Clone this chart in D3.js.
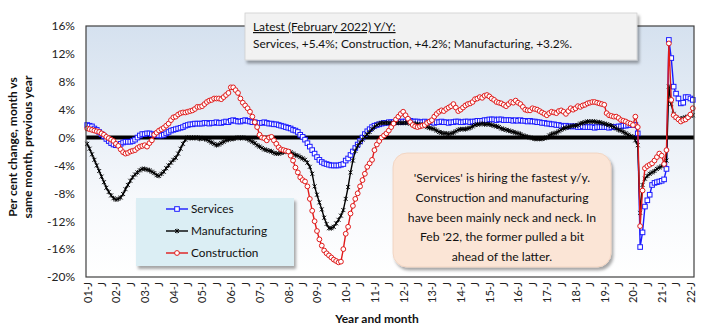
<!DOCTYPE html>
<html>
<head>
<meta charset="utf-8">
<script src="https://cdn.jsdelivr.net/npm/d3@7"></script>
<style>
  body { margin: 0; background: #fff; }
  svg { display: block; font-family: Lato, "Open Sans", sans-serif; }
</style>
</head>
<body>
<svg id="chart" width="701" height="329"></svg>
<script>
// Monthly year-over-year employment change (%), Jan 2001 – Feb 2022
const startYear = 2001;
const monthCount = 254;

const services = [
  1.8, 1.7, 1.6, 1.3, 1.1, 0.8, 0.5, 0.2, -0.2, -0.5, -0.8, -1.0,
  -1.1, -1.1, -0.9, -0.7, -0.6, -0.6, -0.6, -0.5, -0.3, 0.0, 0.3, 0.5,
  0.5, 0.6, 0.6, 0.5, 0.4, 0.4, 0.3, 0.3, 0.4, 0.6, 0.8, 1.0,
  1.1, 1.2, 1.3, 1.4, 1.5, 1.7, 1.8, 1.9, 1.9, 2.0, 2.0, 2.0,
  2.0, 2.1, 2.1, 2.0, 2.1, 2.1, 2.2, 2.1, 2.1, 2.2, 2.3, 2.2,
  2.4, 2.5, 2.4, 2.3, 2.3, 2.4, 2.5, 2.4, 2.3, 2.2, 2.2, 2.1,
  2.1, 2.1, 2.2, 2.1, 2.0, 2.0, 1.9, 1.9, 1.8, 1.7, 1.6, 1.5,
  1.4, 1.3, 1.1, 1.0, 0.8, 0.4, 0.1, -0.3, -0.8, -1.3, -1.8, -2.3,
  -2.8, -3.2, -3.5, -3.7, -3.8, -3.9, -4.0, -4.0, -4.0, -4.0, -3.9, -3.8,
  -3.3, -3.0, -2.5, -2.0, -1.5, -1.0, -0.5, 0.0, 0.5, 0.9, 1.2, 1.5,
  1.7, 1.8, 1.9, 2.0, 2.1, 2.1, 2.2, 2.2, 2.2, 2.2, 2.3, 2.2,
  2.3, 2.3, 2.5, 2.4, 2.3, 2.3, 2.3, 2.2, 2.2, 2.3, 2.2, 2.2,
  2.2, 2.1, 2.2, 2.2, 2.3, 2.2, 2.2, 2.1, 2.2, 2.2, 2.3, 2.3,
  2.2, 2.2, 2.3, 2.3, 2.2, 2.3, 2.3, 2.4, 2.4, 2.4, 2.5, 2.5,
  2.6, 2.6, 2.6, 2.5, 2.6, 2.6, 2.5, 2.5, 2.5, 2.5, 2.4, 2.5,
  2.4, 2.5, 2.4, 2.4, 2.3, 2.4, 2.3, 2.3, 2.2, 2.2, 2.1, 2.1,
  2.0, 2.0, 1.9, 1.9, 1.8, 1.8, 1.7, 1.6, 1.7, 1.6, 1.6, 1.6,
  1.6, 1.5, 1.5, 1.6, 1.5, 1.5, 1.5, 1.5, 1.4, 1.5, 1.5, 1.5,
  1.5, 1.5, 1.4, 1.5, 1.5, 1.5, 1.6, 1.6, 1.7, 1.7, 1.8, 1.8,
  1.8, 1.8, 0.6, -15.7, -13.6, -9.9, -9.0, -8.2, -6.8, -6.5, -6.4, -6.3,
  -6.2, -6.0, -4.5, 14.0, 11.4, 7.3, 6.3, 5.6, 4.9, 5.0, 5.8, 5.8,
  5.6, 5.4
];

const manufacturing = [
  -0.9, -1.6, -2.4, -3.2, -4.0, -4.8, -5.6, -6.4, -7.2, -7.8, -8.3, -8.7,
  -8.9, -8.8, -8.6, -8.1, -7.4, -6.8, -6.2, -5.7, -5.3, -5.0, -4.7, -4.5,
  -4.5, -4.6, -4.7, -4.9, -5.1, -5.4, -5.5, -5.2, -4.9, -4.4, -4.0, -3.6,
  -3.2, -2.9, -2.3, -1.6, -0.9, -0.3, 0.0, -0.1, 0.0, -0.1, 0.0, -0.2,
  -0.1, -0.2, -0.3, -0.5, -0.7, -0.9, -1.1, -1.0, -0.8, -0.6, -0.4, -0.3,
  -0.2, -0.2, -0.1, 0.0, -0.1, 0.0, -0.1, -0.2, -0.4, -0.6, -0.8, -1.1,
  -1.3, -1.5, -1.7, -1.8, -1.9, -2.0, -2.2, -2.3, -2.3, -2.2, -2.1, -2.0,
  -2.0, -2.1, -2.3, -2.5, -2.6, -2.8, -3.0, -3.2, -3.6, -4.2, -5.2, -7.0,
  -8.2, -9.3, -10.3, -11.5, -12.4, -13.0, -13.0, -12.8, -12.3, -11.8, -11.2, -10.4,
  -8.8, -7.1, -5.0, -3.3, -1.9, -1.2, -0.7, -0.3, 0.1, 0.5, 0.8, 1.2,
  1.5, 1.8, 2.0, 2.1, 2.1, 2.1, 2.1, 2.1, 2.1, 2.1, 2.1, 2.1,
  2.1, 2.1, 2.1, 2.0, 2.0, 2.0, 1.9, 1.9, 1.8, 1.7, 1.5, 1.4,
  1.3, 1.2, 1.0, 0.8, 0.7, 0.6, 0.6, 0.5, 0.6, 0.7, 0.9, 1.1,
  1.2, 1.2, 1.2, 1.3, 1.4, 1.6, 1.8, 1.9, 1.9, 2.0, 1.9, 1.9,
  1.9, 1.8, 1.7, 1.6, 1.5, 1.3, 1.2, 1.1, 1.0, 0.9, 0.8, 0.7,
  0.6, 0.5, 0.3, 0.2, 0.1, 0.0, -0.1, -0.2, -0.2, -0.2, -0.2, -0.1,
  0.0, 0.3, 0.5, 0.6, 0.7, 0.9, 1.1, 1.3, 1.4, 1.5, 1.6, 1.7,
  1.7, 1.8, 2.0, 2.1, 2.2, 2.3, 2.3, 2.3, 2.3, 2.2, 2.2, 2.1,
  2.0, 1.9, 1.8, 1.7, 1.5, 1.3, 1.1, 1.0, 0.8, 0.6, 0.4, 0.2,
  0.1, -0.4, -1.1, -10.8, -6.8, -5.9, -5.5, -5.2, -5.0, -4.8, -4.5, -4.3,
  -4.1, -3.8, -3.3, 7.3, 4.8, 3.4, 2.9, 2.7, 2.7, 2.8, 2.9, 3.0,
  3.1, 3.2
];

const construction = [
  1.3, 1.2, 1.1, 1.0, 0.9, 0.8, 0.6, 0.4, 0.1, -0.1, -0.3, -0.5,
  -0.9, -1.2, -1.7, -2.1, -2.3, -2.2, -2.0, -1.9, -1.8, -1.5, -1.3, -1.2,
  -1.1, -1.3, -0.8, -0.4, 0.4, 0.7, 1.0, 1.2, 1.4, 1.7, 2.0, 2.5,
  2.9, 3.0, 3.3, 3.5, 3.6, 3.6, 3.7, 3.8, 3.9, 4.1, 4.4, 4.4,
  4.5, 4.8, 5.1, 5.3, 5.4, 5.6, 5.6, 5.6, 5.5, 5.8, 6.1, 6.4,
  7.2, 7.2, 6.8, 6.4, 5.6, 5.0, 4.6, 4.2, 3.7, 3.0, 2.2, 1.5,
  0.4, 0.0, -0.1, -0.4, 0.0, 0.1, -0.4, -0.9, -1.4, -1.7, -1.8, -1.9,
  -2.0, -2.6, -3.3, -4.3, -5.0, -5.7, -6.1, -6.3, -7.0, -8.8, -10.5, -12.0,
  -13.4, -14.6, -15.5, -16.2, -16.6, -16.9, -17.2, -17.5, -17.7, -17.9, -17.8, -16.0,
  -13.8, -12.8, -10.9, -9.8, -8.8, -8.0, -7.0, -6.1, -5.2, -4.2, -3.7, -3.2,
  -1.8, -1.0, -0.5, 0.0, 0.3, 0.6, 1.0, 1.5, 2.0, 2.6, 3.0, 3.4,
  3.7, 3.2, 2.7, 2.2, 1.8, 1.6, 1.5, 1.6, 1.7, 1.8, 2.1, 2.3,
  2.5, 3.0, 3.4, 3.7, 3.9, 3.8, 4.1, 4.3, 4.5, 4.8, 4.3, 3.8,
  4.0, 4.3, 4.6, 4.8, 4.9, 5.1, 5.5, 5.6, 5.8, 5.7, 6.0, 6.1,
  5.9, 5.6, 5.4, 5.1, 5.0, 4.9, 4.7, 4.5, 4.8, 5.1, 5.0, 5.3,
  5.0, 4.8, 4.4, 4.0, 3.9, 3.9, 4.2, 4.1, 4.0, 3.8, 3.6, 3.4,
  3.2, 3.5, 3.7, 3.6, 3.5, 3.8, 3.9, 3.7, 3.4, 3.8, 4.2, 4.0,
  4.2, 4.5, 4.4, 4.6, 4.7, 4.9, 5.0, 5.1, 5.1, 5.0, 4.9, 4.8,
  4.7, 3.5, 3.2, 3.1, 3.0, 3.0, 2.8, 2.5, 2.4, 2.3, 2.1, 2.0,
  1.8, 3.0, 1.5, -12.7, -7.6, -4.4, -4.1, -3.9, -3.7, -3.3, -2.8, -2.3,
  -2.6, -3.8, -1.8, 13.5, 5.4, 3.2, 2.9, 2.6, 2.3, 2.5, 2.6, 2.9,
  3.3, 4.2
];

const yTicks = [-20, -16, -12, -8, -4, 0, 4, 8, 12, 16];
const seriesNames = ["Services", "Manufacturing", "Construction"];
const seriesColors = ["#1a1aff", "#000000", "#e01b1b"];
const headline = "Latest (February 2022) Y/Y:";
const latestLine = "Services, +5.4%; Construction, +4.2%; Manufacturing, +3.2%.";
const noteLines = [
  "'Services' is hiring the fastest y/y.",
  "Construction and manufacturing",
  "have been mainly neck and neck. In",
  "Feb '22, the former pulled a bit",
  "ahead of the latter."
];

// Month labels: January shows "YY-J", July shows "J"
const months = d3.range(monthCount);
const tickLabel = i => {
  const m = i % 12, yr = startYear + Math.floor(i / 12);
  if (m === 0) return String(yr % 100).padStart(2, "0") + "-J";
  if (m === 6) return "J";
  return "";
};

const svg = d3.select("#chart");
const plot = { left: 86, right: 694, top: 26, bottom: 277 };

const x = d3.scalePoint().domain(months).range([plot.left, plot.right]).padding(0.5);
const y = d3.scaleLinear().domain([-20, 16]).range([plot.bottom, plot.top]);

const defs = svg.append("defs");
const grad = defs.append("linearGradient").attr("id", "plotBg")
  .attr("x1", 0).attr("y1", 0).attr("x2", 0).attr("y2", 1);
grad.append("stop").attr("offset", "0%").attr("stop-color", "#d5e1ef");
grad.append("stop").attr("offset", "70%").attr("stop-color", "#f7f9fc");
grad.append("stop").attr("offset", "100%").attr("stop-color", "#ffffff");

const shadow = defs.append("filter").attr("id", "shadow")
  .attr("x", "-10%").attr("y", "-10%").attr("width", "125%").attr("height", "140%");
shadow.append("feDropShadow").attr("dx", 2).attr("dy", 3)
  .attr("stdDeviation", 1.8).attr("flood-color", "#000").attr("flood-opacity", 0.35);

// Plot area
svg.append("rect")
  .attr("x", plot.left).attr("y", plot.top)
  .attr("width", plot.right - plot.left).attr("height", plot.bottom - plot.top)
  .attr("fill", "url(#plotBg)");

// Y axis labels
const yAxis = svg.append("g")
  .attr("transform", `translate(${plot.left},0)`)
  .call(d3.axisLeft(y).tickValues(yTicks).tickFormat(d => d + "%").tickSize(0).tickPadding(11));
yAxis.select(".domain").remove();
yAxis.selectAll("text").attr("font-size", 12).attr("fill", "#222")
  .attr("font-family", "Lato, sans-serif");

// X axis labels (rotated)
const xAxis = svg.append("g")
  .attr("transform", `translate(0,${plot.bottom})`)
  .call(d3.axisBottom(x).tickValues(months.filter(i => i % 6 === 0)).tickFormat(tickLabel).tickSize(0));
xAxis.select(".domain").remove();
xAxis.selectAll("text")
  .attr("font-size", 11).attr("fill", "#222").attr("font-family", "Lato, sans-serif")
  .attr("text-anchor", "end")
  .attr("transform", "rotate(-90)")
  .attr("x", -5).attr("y", 0).attr("dy", "0.35em");

// Zero line
svg.append("line")
  .attr("x1", plot.left).attr("x2", plot.right)
  .attr("y1", y(0)).attr("y2", y(0))
  .attr("stroke", "#000").attr("stroke-width", 4);

// Series
const data = [services, manufacturing, construction];
const line = d3.line().x((d, i) => x(i)).y(d => y(d));

function drawMarker(g, name, color, cx, cy) {
  if (name === "Services") {
    g.append("rect").attr("x", cx - 2.3).attr("y", cy - 2.3).attr("width", 4.6).attr("height", 4.6)
      .attr("fill", "#fff").attr("stroke", color).attr("stroke-width", 1);
  } else if (name === "Construction") {
    g.append("circle").attr("cx", cx).attr("cy", cy).attr("r", 2.4)
      .attr("fill", "#fff").attr("stroke", color).attr("stroke-width", 1);
  } else {
    g.append("path")
      .attr("d", `M${cx - 2},${cy - 2}L${cx + 2},${cy + 2}M${cx - 2},${cy + 2}L${cx + 2},${cy - 2}M${cx},${cy - 2.4}L${cx},${cy + 2.4}`)
      .attr("stroke", color).attr("stroke-width", 0.9);
  }
}

data.forEach((vals, k) => {
  const g = svg.append("g");
  g.append("path").datum(vals).attr("d", line)
    .attr("fill", "none").attr("stroke", seriesColors[k]).attr("stroke-width", 1.4);
  vals.forEach((v, i) => drawMarker(g, seriesNames[k], seriesColors[k], x(i), y(v)));
});

// Plot border
svg.append("rect")
  .attr("x", plot.left).attr("y", plot.top)
  .attr("width", plot.right - plot.left).attr("height", plot.bottom - plot.top)
  .attr("fill", "none").attr("stroke", "#404040").attr("stroke-width", 1.2);

// Latest-value box
const lb = svg.append("g");
lb.append("rect").attr("x", 245).attr("y", 13).attr("width", 392).attr("height", 47)
  .attr("fill", "#f2f2f2").attr("stroke", "#d0d0d0").attr("stroke-width", 0.8)
  .attr("filter", "url(#shadow)");
lb.append("text").attr("x", 253).attr("y", 31).attr("font-size", 11.9).attr("fill", "#111")
  .attr("text-decoration", "underline").text(headline);
lb.append("text").attr("x", 253).attr("y", 48).attr("font-size", 11.9).attr("fill", "#111")
  .text(latestLine);

// Commentary box
const nb = svg.append("g");
nb.append("rect").attr("x", 393).attr("y", 153).attr("width", 218).attr("height", 114)
  .attr("rx", 14).attr("ry", 14)
  .attr("fill", "#fbe5d6").attr("stroke", "#f0d0bc").attr("stroke-width", 0.8)
  .attr("filter", "url(#shadow)");
nb.selectAll("text").data(noteLines).join("text")
  .attr("x", 502).attr("y", (d, i) => 182 + i * 19.8)
  .attr("text-anchor", "middle").attr("font-size", 12.2).attr("fill", "#111")
  .text(d => d);

// Legend
const lg = svg.append("g");
lg.append("rect").attr("x", 136).attr("y", 198).attr("width", 158).attr("height", 68)
  .attr("fill", "#dbeef4").attr("filter", "url(#shadow)");
seriesNames.forEach((name, k) => {
  const cy = 209 + k * 22;
  lg.append("line").attr("x1", 166).attr("x2", 188).attr("y1", cy).attr("y2", cy)
    .attr("stroke", seriesColors[k]).attr("stroke-width", 1.4);
  drawMarker(lg, name, seriesColors[k], 177, cy);
  lg.append("text").attr("x", 191).attr("y", cy).attr("dy", "0.35em")
    .attr("font-size", 11.8).attr("fill", "#111").text(name);
});

// Axis titles
svg.append("text").attr("x", 377).attr("y", 323).attr("text-anchor", "middle")
  .attr("font-size", 12).attr("font-weight", "bold").attr("fill", "#111").text("Year and month");
const yt = svg.append("text").attr("transform", "translate(0,147) rotate(-90)")
  .attr("text-anchor", "middle").attr("font-size", 12).attr("font-weight", "bold").attr("fill", "#111");
yt.append("tspan").attr("x", 0).attr("y", 17).text("Per cent change, month vs");
yt.append("tspan").attr("x", 0).attr("y", 32).text("same month, previous year");
</script>
</body>
</html>
